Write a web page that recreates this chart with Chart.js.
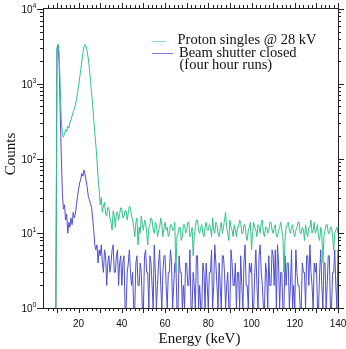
<!DOCTYPE html>
<html>
<head>
<meta charset="utf-8">
<script src="https://cdn.jsdelivr.net/npm/chart.js@4/dist/chart.umd.min.js"></script>
<style>
html, body { margin: 0; padding: 0; background: #fff; }
#wrap { width: 346px; height: 349px; }
</style>
</head>
<body>
<div id="wrap"><canvas id="chart" width="346" height="349"></canvas></div>
<script>
// energy bins (keV), 0.5 keV wide
const energy = [
    9.5, 10, 10.5, 11, 11.5, 12, 12.5, 13, 13.5, 14, 14.5, 15, 15.5, 16, 16.5, 17, 17.5, 18, 18.5, 19,
    19.5, 20, 20.5, 21, 21.5, 22, 22.5, 23, 23.5, 24, 24.5, 25, 25.5, 26, 26.5, 27, 27.5, 28, 28.5, 29, 29.5,
    30, 30.5, 31, 31.5, 32, 32.5, 33, 33.5, 34, 34.5, 35, 35.5, 36, 36.5, 37, 37.5, 38, 38.5, 39, 39.5,
    40, 40.5, 41, 41.5, 42, 42.5, 43, 43.5, 44, 44.5, 45, 45.5, 46, 46.5, 47, 47.5, 48, 48.5, 49, 49.5,
    50, 50.5, 51, 51.5, 52, 52.5, 53, 53.5, 54, 54.5, 55, 55.5, 56, 56.5, 57, 57.5, 58, 58.5, 59, 59.5,
    60, 60.5, 61, 61.5, 62, 62.5, 63, 63.5, 64, 64.5, 65, 65.5, 66, 66.5, 67, 67.5, 68, 68.5, 69, 69.5,
    70, 70.5, 71, 71.5, 72, 72.5, 73, 73.5, 74, 74.5, 75, 75.5, 76, 76.5, 77, 77.5, 78, 78.5, 79, 79.5,
    80, 80.5, 81, 81.5, 82, 82.5, 83, 83.5, 84, 84.5, 85, 85.5, 86, 86.5, 87, 87.5, 88, 88.5, 89, 89.5,
    90, 90.5, 91, 91.5, 92, 92.5, 93, 93.5, 94, 94.5, 95, 95.5, 96, 96.5, 97, 97.5, 98, 98.5, 99, 99.5,
    100, 100.5, 101, 101.5, 102, 102.5, 103, 103.5, 104, 104.5, 105, 105.5, 106, 106.5, 107, 107.5, 108, 108.5, 109, 109.5,
    110, 110.5, 111, 111.5, 112, 112.5, 113, 113.5, 114, 114.5, 115, 115.5, 116, 116.5, 117, 117.5, 118, 118.5, 119, 119.5,
    120, 120.5, 121, 121.5, 122, 122.5, 123, 123.5, 124, 124.5, 125, 125.5, 126, 126.5, 127, 127.5, 128, 128.5, 129, 129.5,
    130, 130.5, 131, 131.5, 132, 132.5, 133, 133.5, 134, 134.5, 135, 135.5, 136, 136.5, 137, 137.5, 138, 138.5, 139, 139.5,
    140
];

// Proton singles @ 28 kV
const protonCounts = [
    1, 3000, 3400, 2600, 900, 330, 210, 192, 215, 245, 230, 270, 255, 300, 330, 370, 420, 455, 520, 610,
    740, 940, 1200, 1550, 2000, 2600, 3100, 3350, 3150, 2700, 2150, 1600, 1100, 760, 520, 340, 220, 150, 95, 58, 38,
    24, 30, 19, 23, 26, 18, 17, 22, 22, 16, 14, 11, 20, 17, 12, 19, 19, 15, 18, 22,
    21, 16, 17, 20, 20, 15, 19, 23, 22, 17, 15, 12, 9, 14, 16, 7, 12, 10, 17, 13,
    11, 15, 14, 10, 7, 12, 13, 16, 15, 11, 10, 14, 13, 9, 11, 12, 16, 13, 9, 12,
    14, 11, 12, 9, 10, 13, 13, 11, 11, 14, 3, 9, 10, 12, 12, 8, 9, 13, 13, 10,
    11, 14, 14, 9, 10, 12, 5, 9, 12, 15, 15, 11, 10, 12, 13, 10, 9, 12, 14, 11,
    11, 13, 12, 9, 16, 11, 10, 14, 13, 10, 9, 12, 14, 10, 12, 15, 19, 12, 10, 8,
    15, 12, 11, 9, 13, 11, 9, 12, 12, 15, 14, 10, 10, 13, 13, 9, 8, 11, 12, 14,
    6, 10, 14, 12, 11, 9, 13, 12, 10, 14, 15, 10, 9, 12, 12, 10, 11, 14, 14, 11,
    10, 12, 13, 9, 9, 11, 12, 14, 11, 9, 3, 8, 12, 13, 14, 11, 10, 12, 13, 10,
    9, 11, 12, 14, 14, 10, 10, 12, 11, 8, 13, 10, 9, 12, 12, 15, 10, 11, 14, 10,
    11, 13, 9, 8, 12, 10, 4, 9, 11, 13, 13, 10, 10, 12, 12, 9, 6, 10, 11, 12,
    10
];

// Beam shutter closed
const shutterCounts = [
    1, 2900, 3300, 1900, 420, 110, 35, 21, 24, 15, 18, 10, 14, 12, 16, 13, 19, 16, 18, 24,
    31, 39, 47, 53, 63, 58, 70, 61, 50, 41, 31, 28, 25, 22, 16, 11, 7, 6, 7, 4, 6,
    5, 7, 4, 3, 6, 5, 2, 4, 5, 3, 4, 6, 7, 3, 3, 5, 6, 2, 4, 5,
    2, 4, 5, 1, 1, 3, 4, 6, 3, 2, 3, 1, 1, 4, 5, 2, 2, 4, 3, 1,
    1, 5, 6, 3, 3, 1, 5, 4, 2, 1, 7, 3, 1, 2, 4, 6, 2, 1, 3, 5,
    5, 2, 1, 3, 3, 6, 4, 1, 2, 4, 4, 1, 1, 5, 3, 3, 1, 2, 1, 4,
    4, 2, 2, 6, 1, 1, 3, 2, 1, 5, 5, 1, 2, 1, 1, 4, 3, 1, 4, 2,
    1, 3, 3, 6, 1, 2, 7, 4, 2, 1, 4, 2, 1, 5, 5, 3, 1, 2, 3, 1,
    1, 6, 4, 2, 2, 4, 1, 3, 3, 1, 5, 2, 1, 4, 7, 2, 2, 1, 4, 3,
    4, 1, 1, 3, 6, 2, 1, 5, 7, 3, 2, 1, 1, 4, 3, 1, 5, 2, 2, 6,
    5, 2, 6, 1, 7, 4, 1, 3, 3, 1, 1, 5, 2, 4, 4, 1, 2, 6, 1, 2,
    1, 6, 3, 2, 2, 1, 1, 4, 3, 3, 1, 5, 5, 2, 7, 3, 2, 1, 4, 3,
    4, 1, 1, 3, 6, 2, 1, 4, 4, 1, 2, 5, 5, 1, 1, 3, 3, 6, 2, 1,
    6
];

const xTickLabels = [20, 40, 60, 80, 100, 120, 140];
const yTickExponents = [0, 1, 2, 3, 4];
const legendLines = ["Proton singles @ 28 kV", "Beam shutter closed", "(four hour runs)"];

const green = "#33c28c";
const blue = "#4f4fd2";

function points(values) {
    return energy.map((e, i) => ({ x: e, y: values[i] }));
}

const frame = {
    id: "frame",
    afterDraw(chart) {
        const { ctx, chartArea: a, scales: { x, y } } = chart;
        ctx.save();
        ctx.strokeStyle = "#222";
        ctx.lineWidth = 1;
        ctx.strokeRect(a.left - 0.5, a.top - 0.5, a.right - a.left + 1, a.bottom - a.top + 1);

        // ticks on all four sides, pointing outward
        ctx.beginPath();
        for (let v = 6; v <= 140; v += 2) {
            const px = Math.round(x.getPixelForValue(v)) + 0.5;
            const len = v % 10 === 0 ? 5 : 3;
            ctx.moveTo(px, a.bottom); ctx.lineTo(px, a.bottom + len);
            ctx.moveTo(px, a.top - 1); ctx.lineTo(px, a.top - 1 - len);
        }
        for (let d = 0; d <= 4; d++) {
            for (let m = 1; m <= 9; m++) {
                if (d === 4 && m > 1) break;
                const py = Math.round(y.getPixelForValue(m * Math.pow(10, d))) + 0.5;
                const len = m === 1 ? 6 : 3;
                ctx.moveTo(a.left - 1, py); ctx.lineTo(a.left - 1 - len, py);
                ctx.moveTo(a.right, py); ctx.lineTo(a.right + len, py);
            }
        }
        ctx.stroke();

        ctx.fillStyle = "#111";
        ctx.font = '10px "Liberation Sans", Arial, sans-serif';
        ctx.textAlign = "center";
        ctx.textBaseline = "alphabetic";
        xTickLabels.forEach(v => {
            ctx.fillText(String(v), x.getPixelForValue(v), 327);
        });

        ctx.textAlign = "right";
        yTickExponents.forEach(e => {
            const py = y.getPixelForValue(Math.pow(10, e));
            ctx.font = '7px "Liberation Sans", Arial, sans-serif';
            const sw = ctx.measureText(String(e)).width;
            ctx.fillText(String(e), 36.5, py - 1);
            ctx.font = '10px "Liberation Sans", Arial, sans-serif';
            ctx.fillText("10", 36.5 - sw, py + 4);
        });

        // axis titles
        ctx.font = '15px "Liberation Serif", "Times New Roman", serif';
        ctx.textAlign = "center";
        ctx.fillText("Energy (keV)", 199.5, 342.5);
        ctx.save();
        ctx.translate(15, 154);
        ctx.rotate(-Math.PI / 2);
        ctx.fillText("Counts", 0, 0);
        ctx.restore();

        // legend
        ctx.lineWidth = 1;
        ctx.strokeStyle = "#8edcc6";
        ctx.beginPath(); ctx.moveTo(152, 41.5); ctx.lineTo(166, 41.5); ctx.stroke();
        ctx.strokeStyle = "#7c7ce0";
        ctx.beginPath(); ctx.moveTo(152, 53.5); ctx.lineTo(173, 53.5); ctx.stroke();
        ctx.font = '14.5px "Liberation Serif", "Times New Roman", serif';
        ctx.textAlign = "left";
        ctx.fillStyle = "#111";
        ctx.fillText(legendLines[0], 177.5, 44);
        ctx.fillText(legendLines[1], 179, 56.5);
        ctx.fillText(legendLines[2], 179.5, 68.5);
        ctx.restore();
    }
};

new Chart(document.getElementById("chart"), {
    type: "line",
    data: {
        datasets: [
            { label: legendLines[0], data: points(protonCounts), borderColor: green, borderWidth: 1, pointRadius: 0, tension: 0 },
            { label: legendLines[1], data: points(shutterCounts), borderColor: blue, borderWidth: 1, pointRadius: 0, tension: 0 },
        ],
    },
    options: {
        responsive: false,
        animation: false,
        devicePixelRatio: 1,
        layout: { padding: { top: 9, right: 8, left: 0, bottom: 0 } },
        plugins: { legend: { display: false }, tooltip: { enabled: false } },
        scales: {
            x: {
                type: "linear", min: 4, max: 140,
                ticks: { display: false }, grid: { display: false }, border: { display: false },
                afterFit: s => { s.height = 41; },
            },
            y: {
                type: "logarithmic", min: 1, max: 10000,
                ticks: { display: false }, grid: { display: false }, border: { display: false },
                afterFit: s => { s.width = 44; },
            },
        },
    },
    plugins: [frame],
});
</script>
</body>
</html>
